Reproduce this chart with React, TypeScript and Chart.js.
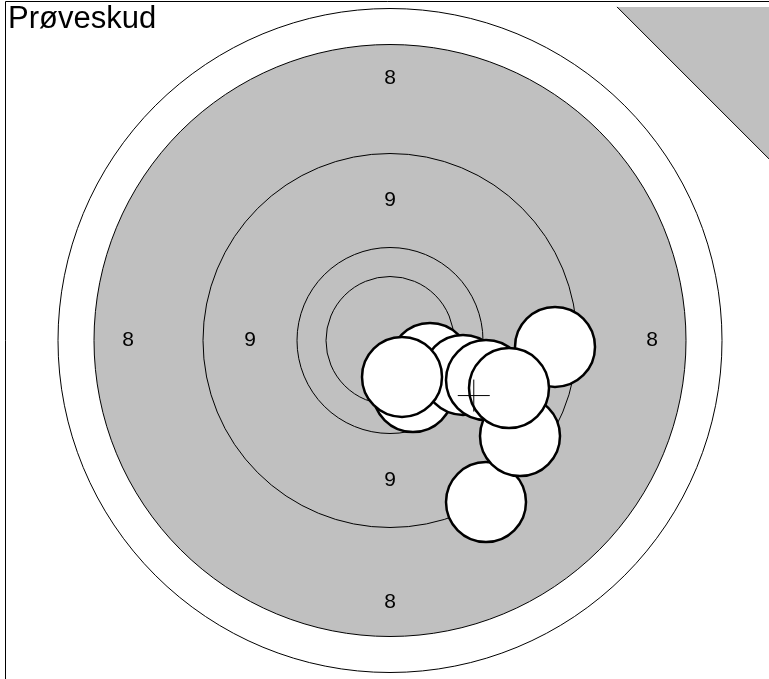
import React, { useEffect, useRef } from "react";
import { Chart, registerables } from "chart.js";

Chart.register(...registerables);

// Target definition (units: 1 unit = 4 px at this size)
const titleText = "Prøveskud";
const ringRadii = [83, 74, 46.75, 23.25, 16]; // outer white ring, gray 8 ring, 9 ring, 10 ring, inner 10
const ringLabels8 = ["8", "8", "8", "8"];
const label8Radius = 65.5;
const label9Radius = 35;
const labels9 = ["9", "9", "9"];

// Shots (drawn in this order)
const shotX = [10, 5.75, 18.25, 24, 41.25, 24, 32.5, 3, 29.75];
const shotY = [-5.6, -12.9, -8.6, -9.9, -1.6, -40.4, -23.9, -9.1, -11.9];
const shotRadius = 10;
const crossArm = 4;

// Corner marker (triangle)
const triX = [56.75, 100, 100];
const triY = [83.4, 83.4, 40.15];

const xMin = -97.5;
const xMax = 94.75;
const yMin = -84.625;
const yMax = 85.125;

const targetPlugin = {
  id: "targetPlugin",
  beforeDatasetsDraw(chart: any) {
    const { ctx } = chart;
    const xs = chart.scales.x;
    const ys = chart.scales.y;
    const cx = xs.getPixelForValue(0);
    const cy = ys.getPixelForValue(0);
    const pr = (r: number) => Math.abs(xs.getPixelForValue(r) - xs.getPixelForValue(0));
    ctx.save();
    // triangle
    ctx.beginPath();
    ctx.moveTo(xs.getPixelForValue(triX[0]), ys.getPixelForValue(triY[0]));
    ctx.lineTo(xs.getPixelForValue(triX[1]), ys.getPixelForValue(triY[1]));
    ctx.lineTo(xs.getPixelForValue(triX[2]), ys.getPixelForValue(triY[2]));
    ctx.closePath();
    ctx.fillStyle = "#c0c0c0";
    ctx.fill();
    ctx.beginPath();
    ctx.moveTo(xs.getPixelForValue(triX[0]), ys.getPixelForValue(triY[0]));
    ctx.lineTo(xs.getPixelForValue(triX[2]), ys.getPixelForValue(triY[2]));
    ctx.strokeStyle = "#000";
    ctx.lineWidth = 1;
    ctx.stroke();

    // rings
    ringRadii.forEach((r, i) => {
      ctx.beginPath();
      ctx.arc(cx, cy, pr(r), 0, Math.PI * 2);
      if (i === 0) {
        ctx.fillStyle = "#ffffff";
        ctx.fill();
      } else if (i === 1) {
        ctx.fillStyle = "#c0c0c0";
        ctx.fill();
      }
      ctx.strokeStyle = "#000";
      ctx.lineWidth = 1;
      ctx.stroke();
    });

    // labels
    ctx.fillStyle = "#000";
    ctx.font = "21px 'Liberation Sans', Arial, sans-serif";
    ctx.textAlign = "center";
    ctx.textBaseline = "middle";
    const dirs8 = [
      [0, 1],
      [-1, 0],
      [1, 0],
      [0, -1],
    ];
    ringLabels8.forEach((t, i) => {
      const [dx, dy] = dirs8[i];
      ctx.fillText(t, xs.getPixelForValue(dx * label8Radius), ys.getPixelForValue(dy * label8Radius));
    });
    const dirs9 = [
      [0, 1],
      [-1, 0],
      [0, -1],
    ];
    labels9.forEach((t, i) => {
      const [dx, dy] = dirs9[i];
      ctx.fillText(t, xs.getPixelForValue(dx * label9Radius), ys.getPixelForValue(dy * label9Radius));
    });
    ctx.restore();
  },
  afterDatasetsDraw(chart: any) {
    const { ctx } = chart;
    const xs = chart.scales.x;
    const ys = chart.scales.y;
    const mx = shotX.reduce((a, b) => a + b, 0) / shotX.length;
    const my = shotY.reduce((a, b) => a + b, 0) / shotY.length;
    ctx.save();
    ctx.strokeStyle = "#000";
    ctx.lineWidth = 1;
    ctx.beginPath();
    ctx.moveTo(xs.getPixelForValue(mx - crossArm), ys.getPixelForValue(my));
    ctx.lineTo(xs.getPixelForValue(mx + crossArm), ys.getPixelForValue(my));
    ctx.moveTo(xs.getPixelForValue(mx), ys.getPixelForValue(my - crossArm));
    ctx.lineTo(xs.getPixelForValue(mx), ys.getPixelForValue(my + crossArm));
    ctx.stroke();

    // frame
    ctx.beginPath();
    ctx.moveTo(5.5, chart.height);
    ctx.lineTo(5.5, 1.5);
    ctx.lineTo(chart.width, 1.5);
    ctx.strokeStyle = "#000";
    ctx.stroke();

    // title
    ctx.fillStyle = "#000";
    ctx.font = "31px 'Liberation Sans', Arial, sans-serif";
    ctx.textAlign = "left";
    ctx.textBaseline = "alphabetic";
    ctx.fillText(titleText, 8, 28);
    ctx.restore();
  },
};

export default function App() {
  const ref = useRef<HTMLCanvasElement | null>(null);
  useEffect(() => {
    document.body.style.margin = "0";
    const canvas = ref.current!;
    const chart = new Chart(canvas, {
      type: "scatter",
      data: {
        datasets: [
          {
            data: shotX.map((x, i) => ({ x, y: shotY[i] })),
            backgroundColor: "#ffffff",
            borderColor: "#000000",
            borderWidth: 2.5,
            pointRadius: (c: any) => {
              const xs = c.chart.scales.x;
              return Math.abs(xs.getPixelForValue(shotRadius) - xs.getPixelForValue(0));
            },
            pointHoverRadius: (c: any) => {
              const xs = c.chart.scales.x;
              return Math.abs(xs.getPixelForValue(shotRadius) - xs.getPixelForValue(0));
            },
            clip: false as any,
          },
        ],
      },
      options: {
        animation: false,
        responsive: false,
        maintainAspectRatio: false,
        devicePixelRatio: 1,
        layout: { padding: 0 },
        events: [],
        scales: {
          x: { type: "linear", min: xMin, max: xMax, display: false },
          y: { type: "linear", min: yMin, max: yMax, display: false },
        },
        plugins: {
          legend: { display: false },
          tooltip: { enabled: false },
          title: { display: false },
        },
      },
      plugins: [targetPlugin],
    });
    return () => chart.destroy();
  }, []);
  return (
    <canvas
      ref={ref}
      width={769}
      height={679}
      style={{ display: "block", width: 769, height: 679, background: "#fff" }}
    />
  );
}
